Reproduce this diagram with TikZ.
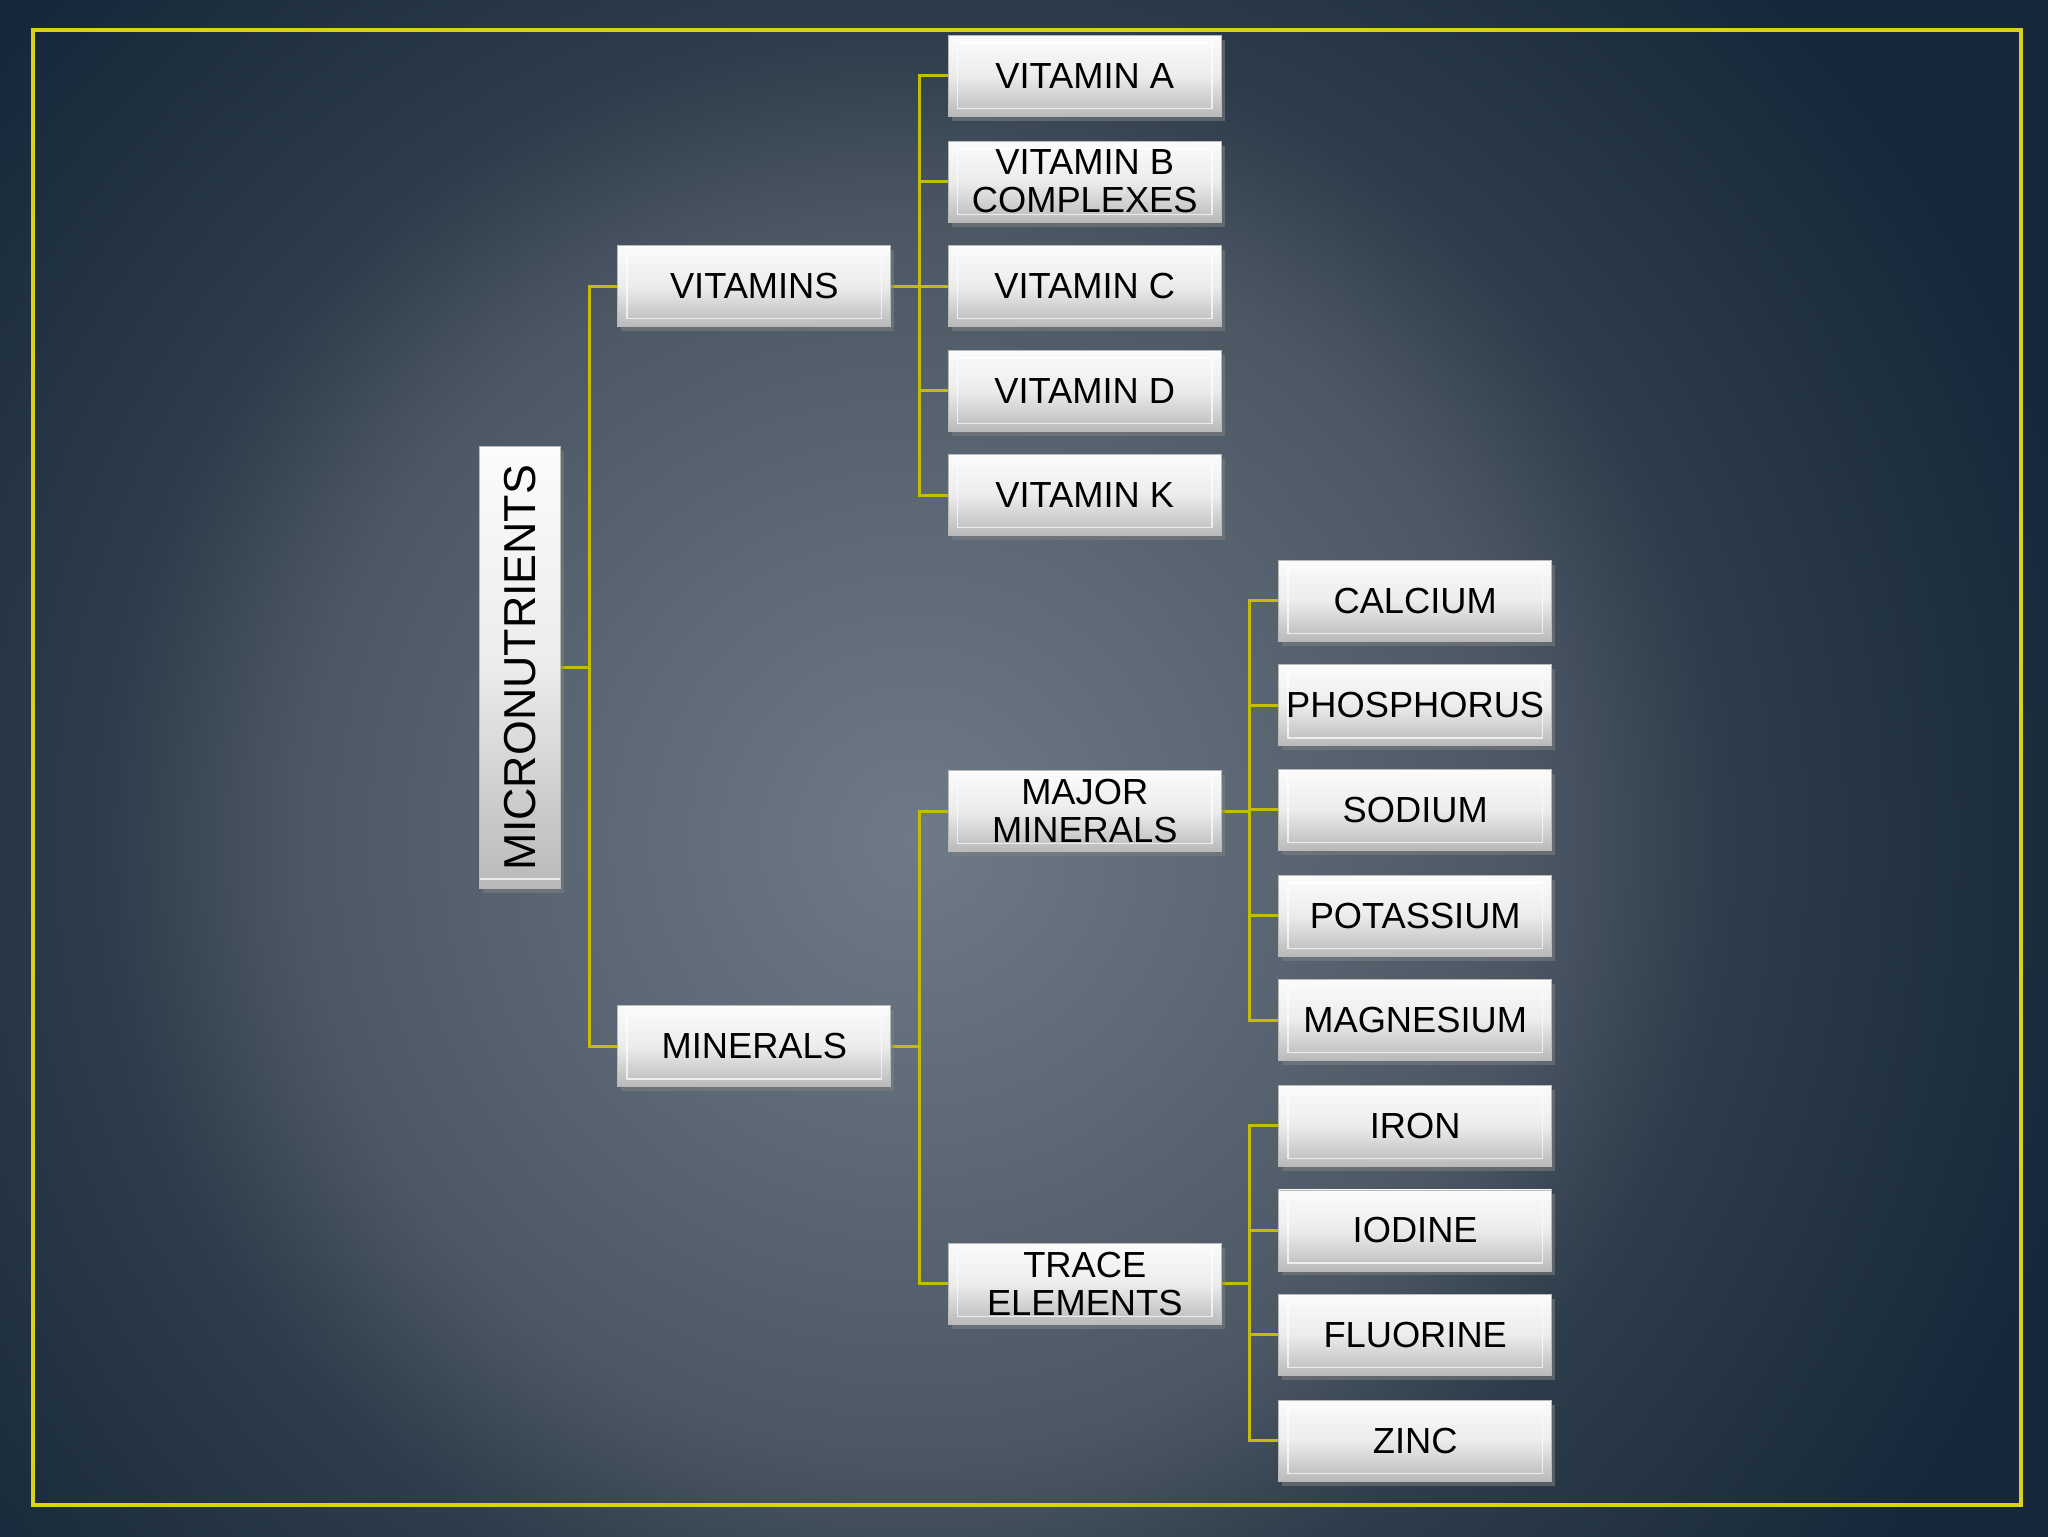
\documentclass[tikz,border=0pt]{standalone}
\usepackage{fontspec}
\setmainfont{Liberation Sans}
\usetikzlibrary{shadows,backgrounds}
\definecolor{bgA}{HTML}{6E7B87}
\definecolor{bgC}{HTML}{4C5764}
\definecolor{bgD}{HTML}{2E3D4B}
\definecolor{bgF}{HTML}{16283A}
\definecolor{olive}{HTML}{C4BC00}
\definecolor{frameyellow}{HTML}{D8D21E}
\tikzset{
  box/.style={minimum width=4.18cm, minimum height=1.24cm, inner sep=1pt, align=center,
    font=\fontsize{15.8}{16.5}\selectfont, top color=gray!3, bottom color=gray!55, middle color=gray!15,
    draw=gray!55, line width=0.3pt,
    drop shadow={opacity=0.55, shadow xshift=0.05cm, shadow yshift=-0.07cm},
    path picture={\draw[white, opacity=0.7, line width=0.6pt]
      ([shift={(0.14cm,0.12cm)}]path picture bounding box.south west) rectangle
      ([shift={(-0.14cm,-0.12cm)}]path picture bounding box.north east);}},
  link/.style={olive, line width=1.3pt},
}
\begin{document}
\begin{tikzpicture}
\useasboundingbox (0,0) rectangle (31.36,-23.52);
% root
\node[box, minimum width=6.76cm, rotate=90, font=\fontsize{19.5}{20}\selectfont] (micro) at (7.96,-10.22) {MICRONUTRIENTS};
\node[box] (vit) at (11.55,-4.38) {VITAMINS};
\node[box] (min) at (11.55,-16.02) {MINERALS};
% vitamins
\node[box] (va) at (16.61,-1.16) {VITAMIN A};
\node[box] (vb) at (16.61,-2.78) {VITAMIN B\\COMPLEXES};
\node[box] (vc) at (16.61,-4.38) {VITAMIN C};
\node[box] (vd) at (16.61,-5.98) {VITAMIN D};
\node[box] (vk) at (16.61,-7.58) {VITAMIN K};
% minerals
\node[box] (major) at (16.61,-12.42) {MAJOR\\MINERALS};
\node[box] (trace) at (16.61,-19.66) {TRACE\\ELEMENTS};
\node[box] (ca) at (21.67,-9.20) {CALCIUM};
\node[box] (p) at (21.67,-10.80) {PHOSPHORUS};
\node[box] (na) at (21.67,-12.40) {SODIUM};
\node[box] (k) at (21.67,-14.02) {POTASSIUM};
\node[box] (mg) at (21.67,-15.62) {MAGNESIUM};
\node[box] (fe) at (21.67,-17.24) {IRON};
\node[box] (io) at (21.67,-18.84) {IODINE};
\node[box] (fl) at (21.67,-20.44) {FLUORINE};
\node[box] (zn) at (21.67,-22.06) {ZINC};
% junctions
\coordinate (j1) at (9.02,-10.22);
\coordinate (j2) at (14.08,-4.38);
\coordinate (j3) at (14.08,-16.02);
\coordinate (j4) at (19.14,-12.42);
\coordinate (j5) at (19.14,-19.66);
\coordinate (glow) at (14.01,-12.86);
\begin{scope}[on background layer]
\clip (-0.2,0.2) rectangle (31.56,-23.72);
\fill[bgF] (-0.2,0.2) rectangle (31.56,-23.72);
% glow, outside in
\foreach \i in {0,...,59} {\pgfmathsetmacro\r{18.4-0.1*\i}\pgfmathsetmacro\p{100*\i/60}
  \fill[bgD!\p!bgF] (glow) circle (\r);}
\foreach \i in {0,...,28} {\pgfmathsetmacro\r{12.4-0.1*\i}\pgfmathsetmacro\p{100*\i/29}
  \fill[bgC!\p!bgD] (glow) circle (\r);}
\foreach \i in {0,...,94} {\pgfmathsetmacro\r{9.5-0.1*\i}\pgfmathsetmacro\p{100*\i/95}
  \fill[bgA!\p!bgC] (glow) circle (\r);}
\draw[frameyellow, line width=1.8pt] (0.5,-0.46) rectangle (30.94,-23.04);
\draw[link] (micro.south) -- (j1);
\foreach \t in {vit,min} \draw[link] (j1) |- (\t.west);
\draw[link] (vit.east) -- (j2);
\foreach \t in {va,vb,vc,vd,vk} \draw[link] (j2) |- (\t.west);
\draw[link] (min.east) -- (j3);
\foreach \t in {major,trace} \draw[link] (j3) |- (\t.west);
\draw[link] (major.east) -- (j4);
\foreach \t in {ca,p,na,k,mg} \draw[link] (j4) |- (\t.west);
\draw[link] (trace.east) -- (j5);
\foreach \t in {fe,io,fl,zn} \draw[link] (j5) |- (\t.west);
\end{scope}
\end{tikzpicture}
\end{document}
